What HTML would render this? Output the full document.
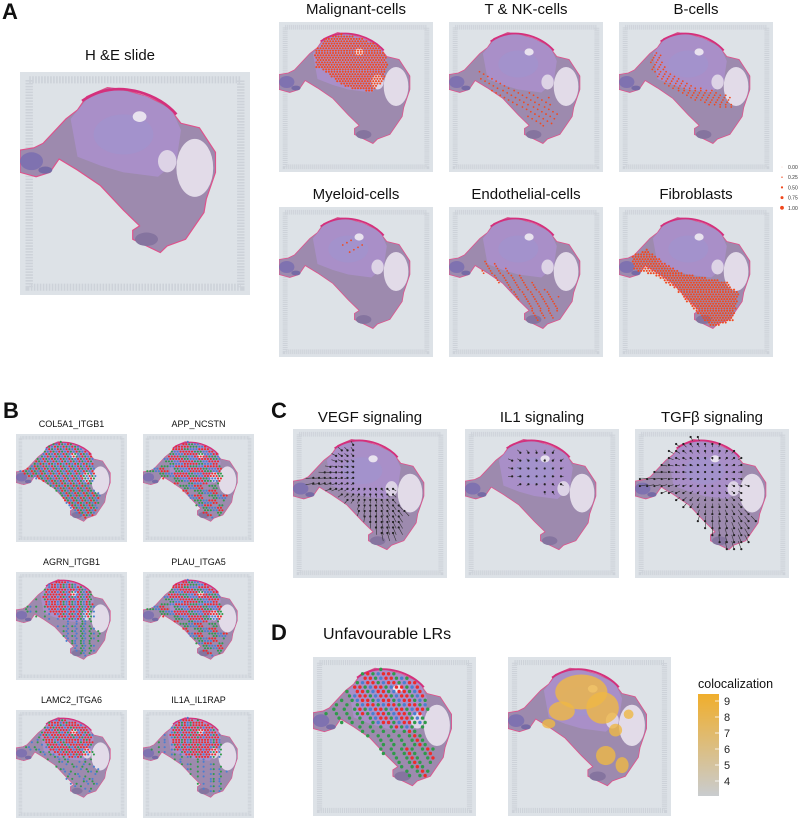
<!DOCTYPE html>
<html><head><meta charset="utf-8">
<style>
html,body{margin:0;padding:0;background:#fff;}
svg{display:block;font-family:"Liberation Sans",Arial,sans-serif;}
</style></head>
<body>
<svg id="fig" width="800" height="819" viewBox="0 0 800 819" xmlns="http://www.w3.org/2000/svg">
<defs>
<symbol id="slide" viewBox="0 0 100 100" preserveAspectRatio="none">
  <rect x="0" y="0" width="100" height="100" fill="#dde2e7"/>
  <rect x="4" y="3.5" width="92" height="93" fill="none" stroke="#cdd2d9" stroke-width="3.2" stroke-dasharray="0.7 0.6"/>
  <polygon points="0,35 6,34 10,32 20,21 25,17 29,11 38,7 46,8 55,11 64,15 70,23 78,25 85,36 85,45 81,57 80,63 72,75 64,78 61,81 49,75 49,71 52,69 45,62 35,51 25,44 17,39 13,45 7,47 0,45" fill="#9d8aae" stroke="#e0508a" stroke-width="0.5"/>
  <polygon points="22,21 30,11 40,7 55,11 66,17 70,26 68,40 60,47 45,45 35,42 25,38" fill="#a98fc8"/>
  <ellipse cx="45" cy="28" rx="13" ry="9" fill="#9d95cf" opacity="0.5"/>
  <ellipse cx="52" cy="20" rx="3" ry="2.4" fill="#e8e2ee"/>
  <ellipse cx="76" cy="43" rx="8" ry="13" fill="#e2dbe8"/>
  <ellipse cx="64" cy="40" rx="4" ry="5" fill="#ddd3e6"/>
  <path d="M27,13 Q38,5 52,9 Q62,12 68,19" fill="none" stroke="#d4307c" stroke-width="1.2"/>
  <ellipse cx="55" cy="75" rx="5" ry="3" fill="#85749f"/>
  <ellipse cx="5" cy="40" rx="5" ry="4" fill="#7f72b0"/>
  <ellipse cx="11" cy="44" rx="3" ry="1.6" fill="#756aa5"/>
</symbol>
</defs>

<text x="2" y="19" font-size="22" font-weight="bold" fill="#111">A</text>
<text x="3" y="418" font-size="22" font-weight="bold" fill="#111">B</text>
<text x="271" y="418" font-size="22" font-weight="bold" fill="#111">C</text>
<text x="271" y="640" font-size="22" font-weight="bold" fill="#111">D</text>

<g id="content"></g>
</svg>

<script>
// ---------- data ----------
var panelTitlesA = ["Malignant-cells","T & NK-cells","B-cells","Myeloid-cells","Endothelial-cells","Fibroblasts"];
var legendValues = [0.00, 0.25, 0.50, 0.75, 1.00];
var legendLabels = ["0.00","0.25","0.50","0.75","1.00"];
var titlesB = ["COL5A1_ITGB1","APP_NCSTN","AGRN_ITGB1","PLAU_ITGA5","LAMC2_ITGA6","IL1A_IL1RAP"];
var titlesC = ["VEGF signaling","IL1 signaling","TGF\u03b2 signaling"];
var colorbarTicks = [9, 8, 7, 6, 5, 4];
var colorbarLabels = ["9","8","7","6","5","4"];
var malignantRegion = [[23,20],[30,11],[40,8],[55,11],[66,17],[71,27],[68,40],[60,46],[48,45],[38,40],[30,33],[24,30]];
var tnkRegion = [[20,30],[45,45],[65,50],[72,65],[62,72],[45,58],[28,46],[18,38]];
var bRegion = [[20,22],[26,20],[32,32],[46,42],[62,46],[74,50],[73,58],[60,56],[44,50],[30,42],[20,32]];
var myeloidRegion = [[35,22],[45,18],[55,25],[45,32]];
var endoRegion = [[18,33],[35,40],[55,50],[72,60],[70,74],[58,76],[40,56],[22,44]];
var fibroRegion = [[8,33],[18,28],[28,36],[40,44],[56,47],[70,50],[78,58],[74,76],[60,80],[50,70],[36,54],[22,45],[10,42]];
var regionsA = [malignantRegion, tnkRegion, bRegion, myeloidRegion, endoRegion, fibroRegion];
var strideA = [1, 4, 2, 7, 3, 1];
var tissueRegion = [[2,35],[10,32],[20,22],[29,11],[40,7],[55,11],[66,17],[70,24],[72,40],[66,48],[76,56],[72,74],[62,78],[50,70],[36,52],[24,44],[14,40]];
var domeRegion = [[24,21],[30,12],[40,8],[55,12],[66,18],[69,30],[66,42],[55,45],[40,42],[28,36]];
var lrModulo = [3, 4, 5, 4, 6, 7];
var yellowBlobs = [[45,22,16,11],[58,32,10,10],[33,34,8,6],[66,46,4,4],[60,62,6,6],[70,68,4,5],[25,42,4,3],[74,36,3,3]];

// ---------- helpers ----------
var NS = "http://www.w3.org/2000/svg";
var root = document.getElementById("content");
function mk(tag, attrs, parent){var e=document.createElementNS(NS,tag);for(var k in attrs)e.setAttribute(k,attrs[k]);(parent||root).appendChild(e);return e;}
function inPoly(x,y,poly){var c=false;for(var i=0,j=poly.length-1;i<poly.length;j=i++){var xi=poly[i][0],yi=poly[i][1],xj=poly[j][0],yj=poly[j][1];if(((yi>y)!=(yj>y))&&(x<(xj-xi)*(y-yi)/(yj-yi)+xi))c=!c;}return c;}
function slide(x,y,w,h,name){
  var g=mk("g",{});
  
  
  mk("use",{href:"#slide",x:x,y:y,width:w,height:h},g);
  var sx=function(v){return x+v*w/100;}, sy=function(v){return y+v*h/100;};
  return {g:g,sx:sx,sy:sy,w:w,h:h};
}
function title(x,y,txt,size,name){
  var t=mk("text",{x:x,y:y,"font-size":size,"text-anchor":"middle",fill:"#111"});
  t.textContent=txt;
  
  
  return t;
}
function spots(p, region, step, stride, r, colorFn){
  var i=0;
  for(var v=5; v<85; v+=step*0.87){
    var row=Math.round(v/step);
    for(var u=(row%2?step/2:0); u<90; u+=step){
      i++;
      if(!inPoly(u,v,region)) continue;
      var col=colorFn(i,u,v);
      if(!col) continue;
      if(stride>1 && (i%stride)!==0) continue;
      var c=mk("circle",{cx:p.sx(u),cy:p.sy(v),r:r,fill:col},p.g);
      
      
    }
  }
}

// ---------- Panel A ----------
title(120,60,"H &E slide",15,"he-slide-title");
slide(20,72,230,223,"he-slide-image");
var colX=[279,449,619], rowY=[22,207], pw=154, ph=150;
for(var k=0;k<6;k++){
  var cx=colX[k%3], cy=rowY[Math.floor(k/3)];
  title(cx+pw/2, cy-8, panelTitlesA[k], 15, "celltype-title-"+k);
  var p=slide(cx,cy,pw,ph,"celltype-map-"+k);
  spots(p, regionsA[k], 1.8, strideA[k], strideA[k]===1?1.05:0.9, function(){return "#f04a20";});
}
for(var k=0;k<legendValues.length;k++){
  var ly=167+k*10.2;
  var c=mk("circle",{cx:782,cy:ly,r:0.3+legendValues[k]*1.6,fill:"#f0471c"});
  
  
  var t=mk("text",{x:788,y:ly+2,"font-size":5,fill:"#333"});
  t.textContent=legendLabels[k];
  
  
}

// ---------- Panel B ----------
var bX=[16,143], bY=[434,572,710], bw=111, bh=108;
for(var k=0;k<6;k++){
  var x=bX[k%2], y=bY[Math.floor(k/2)];
  title(x+bw/2, y-7, titlesB[k], 9, "lr-title-"+k);
  var p=slide(x,y,bw,bh,"lr-map-"+k);
  (function(m){
    spots(p, tissueRegion, 2.6, 1, 1.05, function(i,u,v){
      var inDome=inPoly(u,v,domeRegion);
      var h=(i*7+Math.floor(u)*3)%m;
      if(inDome){ return h===0?"#2f9a4a":(h===1?"#4a7fd0":"#ee2a2a"); }
      if(h===0) return "#2f9a4a";
      if(h===1) return "#4a7fd0";
      if(h===2 && m<5) return "#ee2a2a";
      return null;
    });
  })(lrModulo[k]);
}

// ---------- Panel C ----------
var cX=[293,465,635], cY=429, cw=154, ch=149;
for(var k=0;k<3;k++){
  title(cX[k]+cw/2, cY-7, titlesC[k], 15, "signaling-title-"+k);
  var p=slide(cX[k],cY,cw,ch,"signaling-map-"+k);
  var region = k===1 ? domeRegion : tissueRegion;
  var step = k===1 ? 6 : 4.2;
  for(var v=8; v<82; v+=step){
    for(var u=4; u<86; u+=step){
      if(!inPoly(u,v,region)) continue;
      if(k===0 && !(v>40 || u<40) ) continue;
      var dx=(50-u)*0.12, dy=(30-v)*0.12;
      if(k===2){dx=-dx;dy=-dy;}
      var x1=p.sx(u), y1=p.sy(v), x2=p.sx(u+dx), y2=p.sy(v+dy);
      var ln=mk("line",{x1:x1,y1:y1,x2:x2,y2:y2,stroke:"#333","stroke-width":0.6},p.g);
      
      
      var hd=mk("circle",{cx:x2,cy:y2,r:1.1,fill:"#222"},p.g);
      
      
    }
  }
}

// ---------- Panel D ----------
var dt=mk("text",{x:323,y:639,"font-size":16,fill:"#111"});
dt.textContent="Unfavourable LRs";


var pd1=slide(313,657,163,159,"unfavourable-lr-map");
spots(pd1, tissueRegion, 3.2, 1, 1.7, function(i,u,v){
  var inDome=inPoly(u,v,domeRegion);
  var h=(i*5+Math.floor(v))%4;
  if(inDome) return h===0?"#2f9a4a":(h===1?"#4a7fd0":"#ee2a2a");
  if(h===0||h===2) return "#2f9a4a";
  if(h===1 && u>55) return "#ee2a2a";
  return null;
});
var pd2=slide(508,657,163,159,"colocalization-map");
for(var k=0;k<yellowBlobs.length;k++){
  var b=yellowBlobs[k];
  var e=mk("ellipse",{cx:pd2.sx(b[0]),cy:pd2.sy(b[1]),rx:b[2]*pd2.w/100,ry:b[3]*pd2.h/100,fill:"#efb845",opacity:0.8},pd2.g);
  
  
}
var grad=mk("linearGradient",{id:"cb",x1:0,y1:0,x2:0,y2:1},document.querySelector("defs"));
mk("stop",{offset:"0","stop-color":"#f0ae2c"},grad);
mk("stop",{offset:"1","stop-color":"#c9cccf"},grad);
var ct=mk("text",{x:698,y:688,"font-size":12.5,fill:"#111"});
ct.textContent="colocalization";


var cb=mk("rect",{x:698,y:694,width:21,height:102,fill:"url(#cb)"});


function cbY(v){return 701+(9-v)*16;}
for(var k=0;k<colorbarTicks.length;k++){
  var yy=cbY(colorbarTicks[k]);
  var tk=mk("line",{x1:715,x2:719,y1:yy,y2:yy,stroke:"#fff","stroke-width":0.8});
  
  
  var tl=mk("text",{x:724,y:yy+4,"font-size":11,fill:"#222"});
  tl.textContent=colorbarLabels[k];
  
  
}
</script>
</body></html>
